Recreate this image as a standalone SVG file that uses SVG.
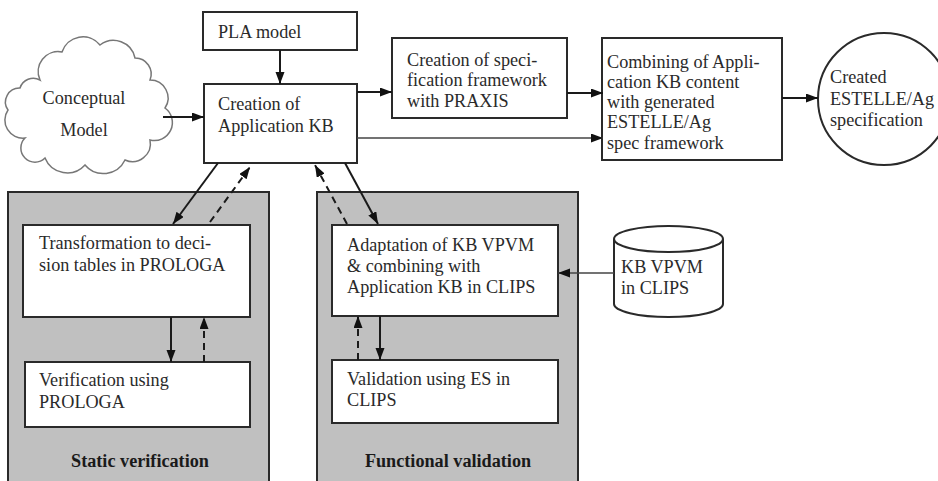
<svg xmlns="http://www.w3.org/2000/svg" width="938" height="481" viewBox="0 0 938 481">
<style>
.box{fill:#fff;stroke:#2a2a2a;stroke-width:2}
.panel{fill:#c0c0c0;stroke:#2a2a2a;stroke-width:2}
text{font-family:'Liberation Serif','DejaVu Serif',serif;font-size:18.2px;fill:#2a2a2a}
.b{font-weight:bold;fill:#1a1a1a}
.c{fill:none;stroke:#1a1a1a;stroke-width:2}
.thin{fill:none;stroke:#444;stroke-width:1.5}
.d{stroke-dasharray:7 5}
</style>
<defs>
<marker id="ah" markerUnits="userSpaceOnUse" markerWidth="13" markerHeight="10" refX="12" refY="4.5" orient="auto">
<path d="M0,0 L12,4.5 L0,9 z" fill="#111"/>
</marker>
</defs>
<rect width="938" height="481" fill="#fff"/>

<g id="static-panel">
<rect class="panel" x="8" y="192" width="261" height="295"/>
<text class="b" x="140" y="467" text-anchor="middle">Static verification</text>
</g>
<g id="functional-panel">
<rect class="panel" x="317" y="192" width="261" height="295"/>
<text class="b" x="448" y="467" text-anchor="middle">Functional validation</text>
</g>

<g id="conceptual-model">
<path d="M40 80 A20 20 0 0 1 62 52 A22 22 0 0 1 100 45 A22 22 0 0 1 135 58 A16 16 0 0 1 150 80 A18 18 0 0 1 165 108 A18 18 0 0 1 150 140 A18 18 0 0 1 125 160 A24 24 0 0 1 85 165 A24 24 0 0 1 45 158 A14 14 0 0 1 25 138 A18 18 0 0 1 8 110 A14 14 0 0 1 20 88 A14 14 0 0 1 40 80 z" fill="#fff" stroke="#777" stroke-width="1.5"/>
<text x="84" y="104" text-anchor="middle">Conceptual</text>
<text x="84" y="136" text-anchor="middle">Model</text>
</g>

<g id="pla-model">
<rect class="box" x="203" y="12" width="154" height="38"/>
<text x="218" y="38">PLA model</text>
</g>

<g id="creation-kb">
<rect class="box" x="204" y="84" width="153" height="79"/>
<text x="218" y="110">Creation of</text>
<text x="218" y="132">Application KB</text>
</g>

<g id="spec-framework">
<rect class="box" x="392" y="38" width="175" height="80"/>
<text x="407" y="66">Creation of speci-</text>
<text x="407" y="86">fication framework</text>
<text x="407" y="107">with PRAXIS</text>
</g>

<g id="combining">
<rect class="box" x="602" y="38" width="180" height="122"/>
<text x="607" y="68">Combining of Appli-</text>
<text x="607" y="88">cation KB content</text>
<text x="607" y="108">with generated</text>
<text x="607" y="128">ESTELLE/Ag</text>
<text x="607" y="149">spec framework</text>
</g>

<g id="created-spec">
<circle cx="884" cy="99" r="66" fill="#fff" stroke="#2a2a2a" stroke-width="2"/>
<text x="830" y="83">Created</text>
<text x="830" y="105">ESTELLE/Ag</text>
<text x="830" y="126">specification</text>
</g>

<g id="transformation">
<rect class="box" x="23" y="225" width="227" height="92"/>
<text x="39" y="249">Transformation to deci-</text>
<text x="39" y="271">sion tables in PROLOGA</text>
</g>

<g id="verification">
<rect class="box" x="25" y="362" width="225" height="65"/>
<text x="39" y="386">Verification using</text>
<text x="39" y="408">PROLOGA</text>
</g>

<g id="adaptation">
<rect class="box" x="332" y="225" width="226" height="91"/>
<text x="347" y="251">Adaptation of KB VPVM</text>
<text x="347" y="272">&amp; combining with</text>
<text x="347" y="293">Application KB in CLIPS</text>
</g>

<g id="validation">
<rect class="box" x="332" y="360" width="226" height="63"/>
<text x="347" y="385">Validation using ES in</text>
<text x="347" y="406">CLIPS</text>
</g>

<g id="kb-vpvm">
<path d="M614 239 L614 304 A54.5 13 0 0 0 723 304 L723 239" fill="#fff" stroke="#2a2a2a" stroke-width="2"/>
<ellipse cx="668.5" cy="239" rx="54.5" ry="13" fill="#fff" stroke="#2a2a2a" stroke-width="2"/>
<text x="621" y="273">KB VPVM</text>
<text x="621" y="294">in CLIPS</text>
</g>

<g id="connectors">
<path class="c" d="M163 117 L204 117" marker-end="url(#ah)"/>
<path class="c" d="M280 50 L280 84" marker-end="url(#ah)"/>
<path class="c" d="M357 92 L392 92" marker-end="url(#ah)"/>
<path class="c" d="M567 93 L603 93" marker-end="url(#ah)"/>
<path class="thin" d="M357 138 L603 138" marker-end="url(#ah)"/>
<path class="c" d="M782 98 L818 98" marker-end="url(#ah)"/>
<path class="c" d="M218 163 L173 224" marker-end="url(#ah)"/>
<path class="c d" d="M210 222 L250 167" marker-end="url(#ah)"/>
<path class="c d" d="M347 224 L315 165" marker-end="url(#ah)"/>
<path class="c" d="M345 163 L378 224" marker-end="url(#ah)"/>
<path class="c" d="M171 317 L171 362" marker-end="url(#ah)"/>
<path class="c d" d="M204 362 L204 317" marker-end="url(#ah)"/>
<path class="c d" d="M358 360 L358 316" marker-end="url(#ah)"/>
<path class="c" d="M380 316 L380 360" marker-end="url(#ah)"/>
<path class="thin" d="M614 273 L558 273" marker-end="url(#ah)"/>
</g>
</svg>
